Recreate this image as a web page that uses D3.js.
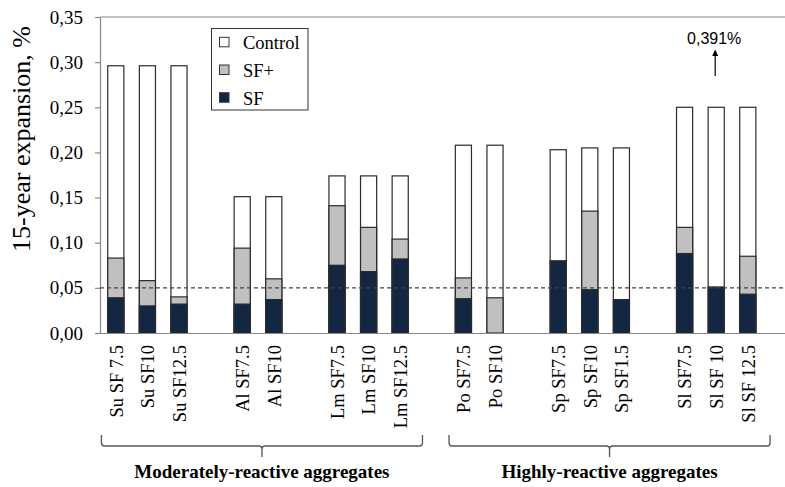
<!DOCTYPE html>
<html>
<head>
<meta charset="utf-8">
<script src="https://cdn.jsdelivr.net/npm/d3@7"></script>
<style>
  html, body { margin: 0; padding: 0; background: #fff; }
  svg { display: block; }
</style>
</head>
<body>
<svg id="chart" width="785" height="487"></svg>
<script>
// ---- data ----
const families = [
  ["Su SF 7.5", "Su SF10", "Su SF12.5"],
  ["Al SF7.5", "Al SF10"],
  ["Lm SF7.5", "Lm SF10", "Lm SF12.5"],
  ["Po SF7.5", "Po SF10"],
  ["Sp SF7.5", "Sp SF10", "Sp SF1.5"],
  ["Sl SF7.5", "Sl SF 10", "Sl SF 12.5"]
];
const categories = families.flat();
const control = [0.296, 0.296, 0.296, 0.151, 0.151, 0.174, 0.174, 0.174, 0.208, 0.208, 0.203, 0.205, 0.205, 0.250, 0.250, 0.250];
const sfPlus  = [0.083, 0.058, 0.040, 0.094, 0.060, 0.141, 0.117, 0.104, 0.061, 0.039, null, 0.135, null, 0.117, null, 0.085];
const sf      = [0.039, 0.030, 0.032, 0.032, 0.037, 0.075, 0.068, 0.082, 0.038, null, 0.080, 0.048, 0.037, 0.088, 0.051, 0.043];
const yTicks = [0, 0.05, 0.10, 0.15, 0.20, 0.25, 0.30, 0.35];
const limitValue = 0.05;
const seriesNames = ["Control", "SF+", "SF"];
const groups = [
  { label: "Moderately-reactive aggregates", first: "Su SF 7.5", last: "Lm SF12.5" },
  { label: "Highly-reactive aggregates", first: "Po SF7.5", last: "Sl SF 12.5" }
];
const annotation = { category: "Sl SF 10", text: "0,391%" };

(function () {
// ---- layout ----
const serif = "'Liberation Serif', 'Times New Roman', serif";
const colors = { "Control": "#ffffff", "SF+": "#c0c0c0", "SF": "#132642" };
const svg = d3.select("#chart");

// slot keys: categories with one empty slot between families, plus a trailing slot
const slots = [];
families.forEach((f, i) => {
  f.forEach(c => slots.push(c));
  slots.push("__gap" + i);
});

const mLeft = 100, mTop = 17, mBottom = 333;
const step = 31.6;
const x = d3.scaleBand()
  .domain(slots)
  .range([mLeft, mLeft + slots.length * step])
  .paddingInner(0.49)
  .paddingOuter(0.245);
const y = d3.scaleLinear().domain([0, 0.35]).range([mBottom, mTop]);
const bw = x.bandwidth();
const xEnd = mLeft + slots.length * step;

// top frame line
svg.append("line")
  .attr("x1", mLeft).attr("x2", xEnd)
  .attr("y1", y(0.35)).attr("y2", y(0.35))
  .attr("stroke", "#888").attr("stroke-width", 1.2);

// y axis
const yAxis = svg.append("g")
  .attr("transform", `translate(${mLeft},0)`)
  .call(d3.axisLeft(y)
    .tickValues(yTicks)
    .tickSizeInner(5).tickSizeOuter(0)
    .tickPadding(12)
    .tickFormat(d => d3.format(".2f")(d).replace(".", ",")));
yAxis.select(".domain").attr("stroke", "#888").attr("stroke-width", 1.2);
yAxis.selectAll(".tick line").attr("stroke", "#888").attr("stroke-width", 1.2);
yAxis.selectAll(".tick text")
  .attr("font-family", serif).attr("font-size", "19px").attr("fill", "#000");

// y title
svg.append("text")
  .attr("transform", "translate(30,139) rotate(-90)")
  .attr("text-anchor", "middle")
  .attr("font-family", serif).attr("font-size", "26px").attr("fill", "#000")
  .text("15-year expansion, %");

// bars
const rows = categories.map((c, i) => ({ c, control: control[i], sfPlus: sfPlus[i], sf: sf[i] }));
const layers = [
  { key: "control", name: "Control" },
  { key: "sfPlus", name: "SF+" },
  { key: "sf", name: "SF" }
];
layers.forEach(L => {
  svg.append("g").selectAll("rect")
    .data(rows.filter(r => r[L.key] != null))
    .join("rect")
    .attr("x", r => x(r.c))
    .attr("width", bw)
    .attr("y", r => y(r[L.key]))
    .attr("height", r => y(0) - y(r[L.key]))
    .attr("fill", colors[L.name])
    .attr("stroke", "#2a2a2a")
    .attr("stroke-width", 1.2);
});

// x axis
const xAxis = svg.append("g")
  .attr("transform", `translate(0,${mBottom})`)
  .call(d3.axisBottom(x).tickValues(categories).tickSize(0).tickPadding(0));
xAxis.select(".domain").attr("stroke", "#888").attr("stroke-width", 1.2)
  .attr("d", `M${mLeft},0.5H${xEnd}`);
xAxis.selectAll(".tick text")
  .attr("font-family", serif).attr("font-size", "18.5px").attr("fill", "#000")
  .attr("text-anchor", "end")
  .attr("transform", "rotate(-90)")
  .attr("x", -12).attr("y", 0).attr("dy", "0.37em");

// dashed limit line
svg.append("line")
  .attr("x1", mLeft).attr("x2", xEnd)
  .attr("y1", y(limitValue)).attr("y2", y(limitValue))
  .attr("stroke", "#444").attr("stroke-width", 1.1)
  .attr("stroke-dasharray", "4,3");

// legend
const lg = svg.append("g");
lg.append("rect").attr("x", 211.5).attr("y", 28.5).attr("width", 96.5).attr("height", 81.5)
  .attr("fill", "#fff").attr("stroke", "#333").attr("stroke-width", 1);
seriesNames.forEach((n, i) => {
  const yy = 37.3 + i * 27.7;
  lg.append("rect").attr("x", 219.5).attr("y", yy).attr("width", 9.5).attr("height", 9.5)
    .attr("fill", colors[n]).attr("stroke", "#333").attr("stroke-width", 1);
  lg.append("text").attr("x", 243).attr("y", yy + 11.8)
    .attr("font-family", serif).attr("font-size", "18.5px").attr("fill", "#000")
    .text(n);
});

// annotation
const ax = x(annotation.category) + bw / 2 - 1;
svg.append("text")
  .attr("x", ax - 1).attr("y", 43.5)
  .attr("text-anchor", "middle")
  .attr("font-family", "'Liberation Sans', Arial, sans-serif").attr("font-size", "16px").attr("fill", "#000")
  .text(annotation.text);
svg.append("line").attr("x1", ax).attr("x2", ax).attr("y1", 76).attr("y2", 55)
  .attr("stroke", "#000").attr("stroke-width", 1.2);
svg.append("path").attr("d", `M${ax},49.5L${ax - 3},56L${ax + 3},56Z`).attr("fill", "#000");

// braces and group labels
groups.forEach(g => {
  const x0 = x(g.first) - step * 0.2;
  const x1 = x(g.last) + bw + step * 0.45;
  const tip = (x0 + x1) / 2;
  const yT = 435, yH = 446, yB = 457, r = 3;
  const d = `M${x0},${yT}L${x0},${yH - r}Q${x0},${yH} ${x0 + r},${yH}L${tip - r},${yH}Q${tip},${yH} ${tip},${yH + r}L${tip},${yB}` +
            `M${tip},${yH + r}Q${tip},${yH} ${tip + r},${yH}L${x1 - r},${yH}Q${x1},${yH} ${x1},${yH - r}L${x1},${yT}`;
  svg.append("path").attr("d", d).attr("fill", "none").attr("stroke", "#555").attr("stroke-width", 1.3);
  svg.append("text")
    .attr("x", tip).attr("y", 478)
    .attr("text-anchor", "middle")
    .attr("font-family", serif).attr("font-size", "19px").attr("font-weight", "bold").attr("fill", "#000")
    .text(g.label);
});
})();
</script>
</body>
</html>
